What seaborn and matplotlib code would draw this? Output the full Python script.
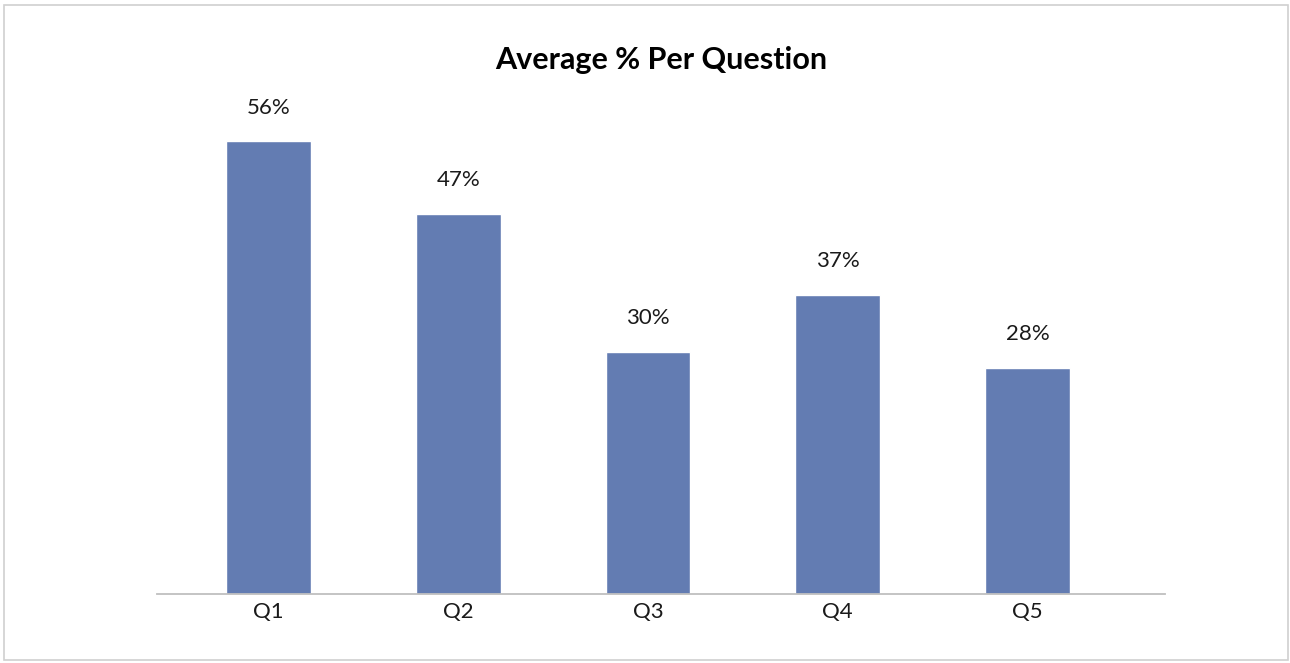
import matplotlib
matplotlib.use("Agg")
import matplotlib.pyplot as plt
import seaborn as sns
import pandas as pd
from matplotlib.patches import Rectangle

questions = ["Q1", "Q2", "Q3", "Q4", "Q5"]
averages = [56, 47, 30, 37, 28]
value_labels = ["56%", "47%", "30%", "37%", "28%"]

sns.set_theme(style="white")
plt.rcParams['font.family'] = ['Lato', 'DejaVu Sans']

W, H = 1290, 663
fig = plt.figure(figsize=(W / 100, H / 100), dpi=100)
left, right = 157, 1165
bottom_y, top_y = 594, 109
ax = fig.add_axes([left / W, (H - bottom_y) / H, (right - left) / W, (bottom_y - top_y) / H])

df = pd.DataFrame({"q": questions, "v": averages})
sns.barplot(data=df, x="q", y="v", color="#637CB2", width=0.446, saturation=1, ax=ax)

ax.set_ylim(0, 60)
ax.set_xlim(-0.588, 4.725)
for side in ["left", "right", "top"]:
    ax.spines[side].set_visible(False)
ax.spines["bottom"].set_color("#BFBFBF")
ax.spines["bottom"].set_linewidth(1.3)
ax.set_yticks([])
ax.set_xlabel("")
ax.set_ylabel("")
ax.tick_params(axis="x", length=0, labelsize=16, colors="#1a1a1a", pad=6)

ax.bar_label(ax.containers[0], labels=value_labels, padding=17, fontsize=16, color="#1a1a1a")

fig.text((left + right) / 2 / W, 1 - 60 / H, "Average % Per Question", fontsize=22, fontweight="bold",
         ha="center", va="center", color="black")

fig.patches.append(Rectangle((4 / W, 3 / H), (1288 - 4) / W, (658 - 3) / H, transform=fig.transFigure,
                             fill=False, edgecolor="#D0D0D0", linewidth=1.2))

fig.savefig("out.png", dpi=100, facecolor="white")
